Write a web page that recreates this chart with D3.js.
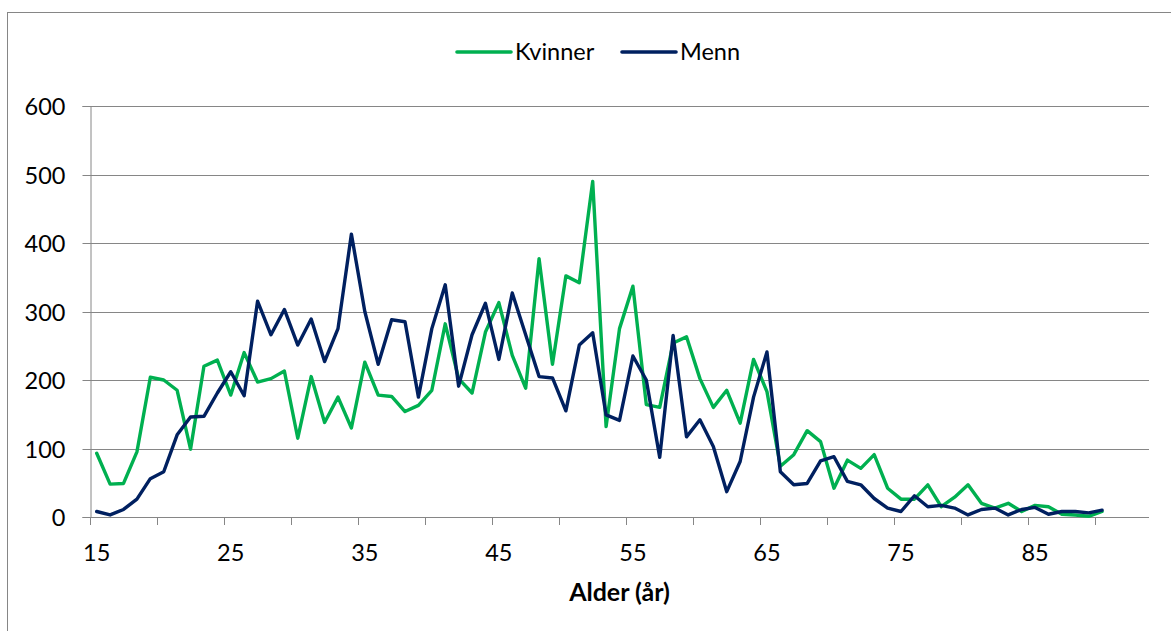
<!DOCTYPE html>
<html>
<head>
<meta charset="utf-8">
<script src="https://cdn.jsdelivr.net/npm/d3@7"></script>
<style>
  html, body { margin: 0; padding: 0; background: #fff; }
  svg text { font-family: Lato, "Open Sans", sans-serif; fill: #000; }
</style>
</head>
<body>
<svg id="chart" width="1171" height="631"></svg>
<script>
// Category axis (ages); the last three categories have no data
const categories = [15,16,17,18,19,20,21,22,23,24,25,26,27,28,29,30,31,32,33,34,35,36,37,38,39,40,
  41,42,43,44,45,46,47,48,49,50,51,52,53,54,55,56,57,58,59,60,61,62,63,64,65,66,67,68,69,70,
  71,72,73,74,75,76,77,78,79,80,81,82,83,84,85,86,87,88,89,90,91,92,93];
const dataAges = [15,16,17,18,19,20,21,22,23,24,25,26,27,28,29,30,31,32,33,34,35,36,37,38,39,40,
  41,42,43,44,45,46,47,48,49,50,51,52,53,54,55,56,57,58,59,60,61,62,63,64,65,66,67,68,69,70,
  71,72,73,74,75,76,77,78,79,80,81,82,83,84,85,86,87,88,89,90];
const kvinner = [93,48,49,95,204,200,185,99,220,229,178,240,197,202,213,115,205,138,175,130,
  226,178,176,154,163,185,282,202,181,270,313,236,188,377,223,352,342,490,132,275,
  337,164,160,254,263,202,160,185,137,230,183,74,91,126,110,42,83,71,91,42,
  26,26,47,15,29,47,20,13,20,8,17,15,4,3,1,8];
const menn = [8,3,11,26,56,66,120,146,147,181,212,177,315,266,303,251,289,227,275,413,
  300,223,288,285,175,275,339,191,266,312,230,327,266,205,203,155,251,269,149,141,
  235,200,87,265,117,142,103,37,81,175,241,66,47,49,82,88,52,47,27,13,
  8,31,15,17,13,3,11,13,3,11,14,4,8,8,6,10];
const xTickLabels = [15,25,35,45,55,65,75,85];
const yTicks = [0,100,200,300,400,500,600];
const seriesNames = ["Kvinner","Menn"];
const seriesColors = ["#00B050","#002060"];
const xTitle = "Alder (år)";

const svg = d3.select("#chart");
const pLeft = 90, pRight = 1149, pTop = 106, pBottom = 517;

svg.append("rect").attr("x",0).attr("y",0).attr("width",1171).attr("height",631).attr("fill","#fff");
// outer chart border
svg.append("rect").attr("x",7.5).attr("y",12.5).attr("width",1200).attr("height",700)
  .attr("fill","none").attr("stroke","#868686").attr("stroke-width",1);

const x = d3.scaleBand().domain(categories).range([pLeft, pRight]).paddingInner(0).paddingOuter(0);
const y = d3.scaleLinear().domain([0,600]).range([pBottom, pTop]);
const cx = a => x(a) + x.bandwidth()/2;

// gridlines
svg.append("g").selectAll("line").data(yTicks.filter(d => d > 0)).join("line")
  .attr("x1", pLeft).attr("x2", pRight)
  .attr("y1", d => Math.round(y(d)) + 0.5).attr("y2", d => Math.round(y(d)) + 0.5)
  .attr("stroke", "#868686").attr("stroke-width", 1);

// y axis
const yAxis = d3.axisLeft(y).tickValues(yTicks).tickSize(8).tickPadding(17).tickFormat(d3.format("d"));
const gy = svg.append("g").attr("transform", `translate(${pLeft + 0.5},0)`).call(yAxis);
gy.select(".domain").attr("stroke","#868686");
gy.selectAll(".tick line").attr("stroke","#868686");
gy.selectAll(".tick").attr("transform", d => `translate(0,${Math.round(y(d)) + 0.5})`);
gy.selectAll("text").style("font-size","23.5px").style("font-family","Lato, 'Open Sans', sans-serif").attr("fill","#000").attr("dy","0.36em");

// x axis: tick marks every 5 categories, labels every 10
const xAxisG = svg.append("g");
xAxisG.append("line").attr("x1", pLeft).attr("x2", pRight)
  .attr("y1", pBottom + 0.5).attr("y2", pBottom + 0.5).attr("stroke","#868686");
const tickCats = categories.filter((c,i) => i % 5 === 0);
xAxisG.selectAll("line.tk").data(tickCats).join("line").attr("class","tk")
  .attr("x1", d => Math.round(x(d)) + 0.5).attr("x2", d => Math.round(x(d)) + 0.5)
  .attr("y1", pBottom).attr("y2", pBottom + 8).attr("stroke","#868686");
xAxisG.selectAll("text").data(xTickLabels).join("text")
  .attr("x", d => cx(d)).attr("y", 561)
  .attr("text-anchor","middle").style("font-size","23.5px").text(d => d);

svg.append("text").attr("x", (pLeft + pRight)/2).attr("y", 601)
  .attr("text-anchor","middle").style("font-size","25px").style("font-weight","bold").text(xTitle);

// lines
const line = d3.line().x((d,i) => cx(dataAges[i])).y(d => y(d));
[kvinner, menn].forEach((vals, k) => {
  svg.append("path").datum(vals).attr("d", line)
    .attr("fill","none").attr("stroke", seriesColors[k]).attr("stroke-width", 3.4)
    .attr("stroke-linejoin","round").attr("stroke-linecap","round");
});

// legend
const legendX = [457, 622];
seriesNames.forEach((name, k) => {
  svg.append("line").attr("x1", legendX[k]).attr("x2", legendX[k] + 54)
    .attr("y1", 52).attr("y2", 52).attr("stroke", seriesColors[k]).attr("stroke-width", 3.6)
    .attr("stroke-linecap","round");
  svg.append("text").attr("x", legendX[k] + 58).attr("y", 52).attr("dy","0.36em")
    .style("font-size","23.5px").text(name);
});
</script>
</body>
</html>
